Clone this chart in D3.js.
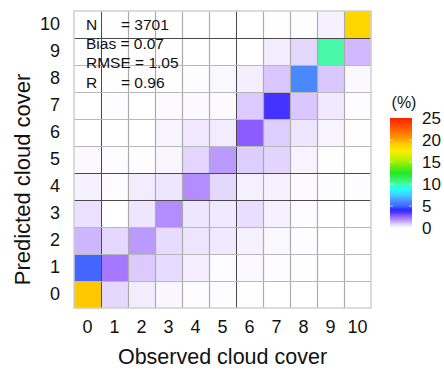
<!DOCTYPE html>
<html>
<head>
<meta charset="utf-8">
<script src="https://cdn.jsdelivr.net/npm/d3@7"></script>
<style>
  html, body { margin: 0; padding: 0; background: #fff; }
  svg { display: block; font-family: "Liberation Sans", Arial, sans-serif; }
</style>
</head>
<body>
<svg id="chart" width="444" height="370"></svg>
<script>
// Cloud cover classes 0..10
const observedClasses = ["0","1","2","3","4","5","6","7","8","9","10"];
const predictedClasses = ["0","1","2","3","4","5","6","7","8","9","10"];

// Frequency (%) per predicted class (rows), across observed classes 0..10
const predicted0  = [19.3, 0.75, 0.4, 0.2, 0.05, 0.06, 0.02, 0, 0, 0, 0];
const predicted1  = [5.0, 2.2, 1.0, 0.7, 0.35, 0.08, 0.12, 0.08, 0.04, 0, 0];
const predicted2  = [1.3, 0.75, 1.7, 0.7, 0.55, 0.45, 0.3, 0.15, 0.06, 0, 0];
const predicted3  = [0.6, 0, 0.5, 1.9, 0.5, 0.45, 0.65, 0.3, 0.08, 0, 0];
const predicted4  = [0.3, 0.08, 0.4, 0.5, 1.9, 0.75, 0.3, 0.3, 0.1, 0.05, 0.05];
const predicted5  = [0.12, 0.05, 0.05, 0.2, 0.8, 1.7, 0.95, 0.8, 0.25, 0.02, 0];
const predicted6  = [0, 0, 0, 0.25, 0.45, 0.4, 2.8, 0.95, 0.5, 0.25, 0.02];
const predicted7  = [0, 0.05, 0, 0.1, 0.12, 0.1, 1.0, 3.6, 1.05, 0.45, 0.08];
const predicted8  = [0, 0, 0, 0, 0.05, 0.15, 0.35, 1.05, 6.0, 1.05, 0.12];
const predicted9  = [0, 0, 0, 0, 0, 0, 0, 0.4, 0.75, 10.0, 1.25];
const predicted10 = [0, 0, 0, 0, 0, 0, 0, 0.02, 0.05, 0.3, 18.5];
const predictedRows = [predicted0, predicted1, predicted2, predicted3, predicted4, predicted5,
                       predicted6, predicted7, predicted8, predicted9, predicted10];

// Verification statistics
const statNames  = ["N", "Bias", "RMSE", "R"];
const statValues = ["3701", "0.07", "1.05", "0.96"];

// Colour bar ticks (%)
const legendTicks = [0, 5, 10, 15, 20, 25];

// Colour ramp: white -> lavender -> purple -> blue -> cyan -> green -> yellow -> red
const rampStops  = [0, 0.4, 1.0, 1.5, 2.2, 2.8, 3.6, 4.2, 5.0, 6.0, 7.5, 8.8, 10, 12.5, 15.5, 17.5, 18.5, 19.3, 20, 22.5, 25];
const rampColors = ["#ffffff","#f2ecff","#dccaff","#c4a8ff","#a678ff","#8c5cff","#4433ff","#2a2aff",
                    "#4466ff","#4a88ff","#40d0ff","#20ffff","#48f8a8","#20e820","#b8f000","#ffee00",
                    "#ffd700","#ffc800","#ffa500","#ff6000","#ff2000"];

const svg = d3.select("#chart");

const plot = { left: 74, right: 371, top: 11, bottom: 308 };

const x = d3.scaleBand().domain(observedClasses).range([plot.left, plot.right]);
const y = d3.scaleBand().domain(predictedClasses.slice().reverse()).range([plot.top, plot.bottom]);
const color = d3.scaleLinear().domain(rampStops).range(rampColors).interpolate(d3.interpolateRgb).clamp(true);

// Flatten into cells
const cells = [];
predictedRows.forEach((row, i) => {
  row.forEach((v, j) => cells.push({ obs: observedClasses[j], pred: predictedClasses[i], value: v }));
});

svg.append("g")
  .selectAll("rect")
  .data(cells)
  .join("rect")
  .attr("x", d => x(d.obs))
  .attr("y", d => y(d.pred))
  .attr("width", x.bandwidth() + 0.5)
  .attr("height", y.bandwidth() + 0.5)
  .attr("fill", d => color(d.value));

// Grid lines on class boundaries
const darkV = new Set([1, 6]);
const darkH = new Set([10, 5, 4]);
const grid = svg.append("g");
observedClasses.forEach((c, i) => {
  if (i === 0) return;
  const xx = Math.round(x(c)) + 0.5;
  grid.append("line")
    .attr("x1", xx).attr("x2", xx)
    .attr("y1", plot.top).attr("y2", plot.bottom)
    .attr("stroke", darkV.has(i) ? "#4a4a4a" : "#ababab")
    .attr("stroke-width", darkV.has(i) ? 1 : 1.2);
});
predictedClasses.forEach((c, i) => {
  if (i === 0) return;
  const yy = Math.round(y(c) + y.bandwidth()) + 0.5;
  grid.append("line")
    .attr("x1", plot.left).attr("x2", plot.right)
    .attr("y1", yy).attr("y2", yy)
    .attr("stroke", darkH.has(i) ? "#4a4a4a" : "#b8b8b8")
    .attr("stroke-width", darkH.has(i) ? 1 : 1.2);
});
// Frame
svg.append("rect")
  .attr("x", plot.left).attr("y", plot.top)
  .attr("width", plot.right - plot.left).attr("height", plot.bottom - plot.top)
  .attr("fill", "none").attr("stroke", "#d0d0d0").attr("stroke-width", 1.5);

// Axes
const xAxis = svg.append("g")
  .attr("transform", `translate(0,${plot.bottom})`)
  .call(d3.axisBottom(x).tickSize(0).tickPadding(12));
xAxis.select(".domain").remove();
xAxis.selectAll("text").attr("font-size", 18).attr("fill", "#111").attr("font-family", "Liberation Sans, Arial, sans-serif");

const yAxis = svg.append("g")
  .attr("transform", `translate(${plot.left},0)`)
  .call(d3.axisLeft(y).tickSize(0).tickPadding(14));
yAxis.select(".domain").remove();
yAxis.selectAll("text").attr("font-size", 18).attr("fill", "#111").attr("font-family", "Liberation Sans, Arial, sans-serif");

// Axis titles
svg.append("text")
  .attr("x", (plot.left + plot.right) / 2)
  .attr("y", 364)
  .attr("text-anchor", "middle")
  .attr("font-size", 21.5)
  .attr("fill", "#111")
  .text("Observed cloud cover");

svg.append("text")
  .attr("transform", `translate(30,${(plot.top + plot.bottom) / 2 + 20}) rotate(-90)`)
  .attr("text-anchor", "middle")
  .attr("font-size", 22)
  .attr("fill", "#111")
  .text("Predicted cloud cover");

// Statistics box
const statBaselines = [29.5, 49, 68.3, 87.5];
const stats = svg.append("g").attr("font-size", 15.5).attr("fill", "#111");
statNames.forEach((name, i) => {
  if (name === "Bias" || name === "RMSE") {
    stats.append("text").attr("x", 86).attr("y", statBaselines[i]).text(`${name} = ${statValues[i]}`);
  } else {
    stats.append("text").attr("x", 86).attr("y", statBaselines[i]).text(name);
    stats.append("text").attr("x", 121).attr("y", statBaselines[i]).text(`= ${statValues[i]}`);
  }
});

// Colour bar
const cb = { x: 390, w: 22, top: 118, bottom: 228 };
const cbScale = d3.scaleLinear().domain([0, 25]).range([cb.bottom, cb.top]);
const grad = svg.append("defs").append("linearGradient")
  .attr("id", "cbGrad").attr("x1", 0).attr("y1", 1).attr("x2", 0).attr("y2", 0);
d3.range(0, 25.01, 0.25).forEach(v => {
  grad.append("stop").attr("offset", v / 25).attr("stop-color", color(v));
});
svg.append("rect")
  .attr("x", cb.x).attr("y", cb.top)
  .attr("width", cb.w).attr("height", cb.bottom - cb.top)
  .attr("fill", "url(#cbGrad)");

// tick dashes inside the bar
const dash = svg.append("g").attr("stroke", "#fff").attr("stroke-opacity", 0.6).attr("stroke-width", 1);
legendTicks.filter(t => t > 0 && t < 25).forEach(t => {
  const yy = cbScale(t);
  dash.append("line").attr("x1", cb.x).attr("x2", cb.x + 3).attr("y1", yy).attr("y2", yy);
  dash.append("line").attr("x1", cb.x + cb.w - 3).attr("x2", cb.x + cb.w).attr("y1", yy).attr("y2", yy);
});

const cbAxis = svg.append("g")
  .attr("transform", `translate(${cb.x + cb.w},0)`)
  .call(d3.axisRight(cbScale).tickValues(legendTicks).tickSize(0).tickPadding(10));
cbAxis.select(".domain").remove();
cbAxis.selectAll("text").attr("font-size", 17).attr("fill", "#111").attr("font-family", "Liberation Sans, Arial, sans-serif");

svg.append("text")
  .attr("x", cb.x + cb.w / 2 + 3)
  .attr("y", 108)
  .attr("text-anchor", "middle")
  .attr("font-size", 16)
  .attr("fill", "#111")
  .text("(%)");
</script>
</body>
</html>
